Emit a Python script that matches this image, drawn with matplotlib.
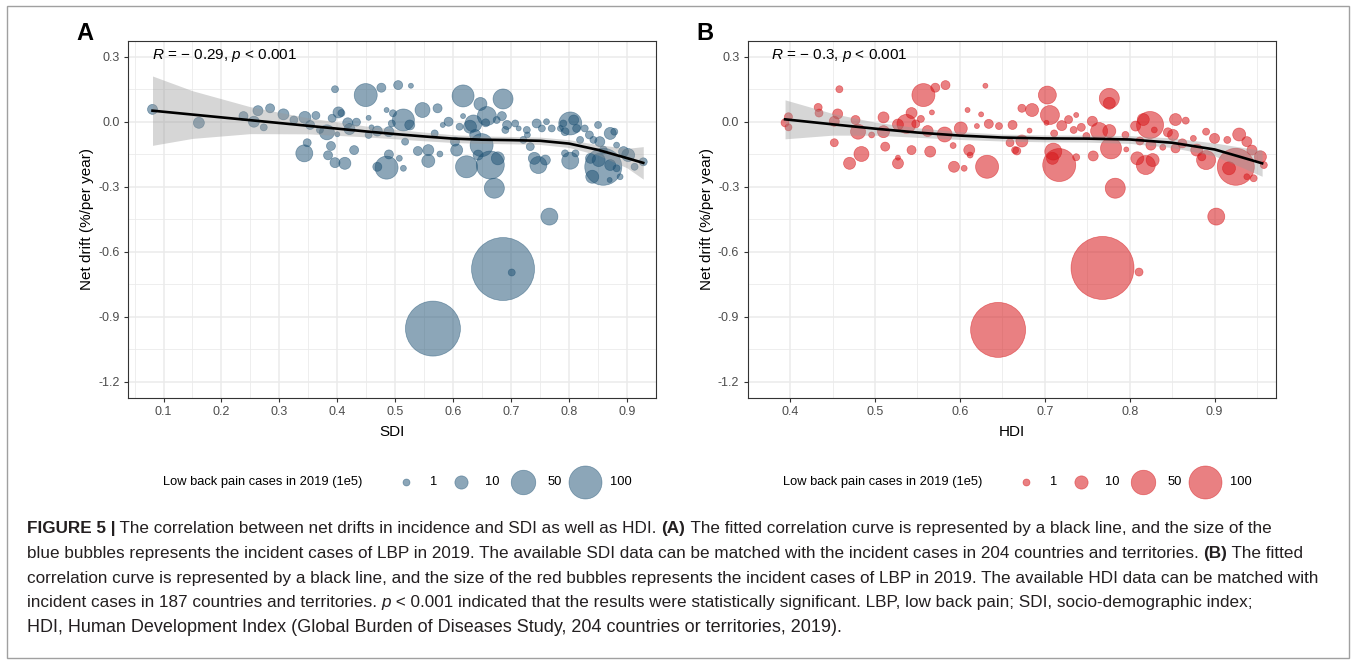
import numpy as np
import matplotlib
matplotlib.use("Agg")
import matplotlib.pyplot as plt
from matplotlib.patches import Rectangle

plt.rcParams['font.family'] = ['Liberation Sans', 'DejaVu Sans']
plt.rcParams['mathtext.fontset'] = 'custom'
plt.rcParams['mathtext.rm'] = 'Liberation Sans'
plt.rcParams['mathtext.it'] = 'Liberation Sans:italic'

# ---- panel A: SDI vs net drift, bubble = LBP cases 2019 (1e5) ----
sdi = [0.081, 0.161, 0.238, 0.263, 0.256, 0.273, 0.284, 0.307, 0.325, 0.344,
       0.363, 0.353, 0.343, 0.348, 0.370, 0.382, 0.389, 0.384, 0.396, 0.413,
       0.396, 0.391, 0.402, 0.407, 0.400, 0.418, 0.421, 0.433, 0.429, 0.449,
       0.476, 0.485, 0.454, 0.459, 0.454, 0.469, 0.485, 0.469, 0.489, 0.489,
       0.494, 0.505, 0.527, 0.547, 0.573, 0.514, 0.496, 0.525, 0.517, 0.514,
       0.507, 0.539, 0.557, 0.557, 0.577, 0.568, 0.582, 0.592, 0.617, 0.647,
       0.658, 0.686, 0.617, 0.611, 0.629, 0.635, 0.638, 0.656, 0.675, 0.684,
       0.693, 0.690, 0.606, 0.603, 0.623, 0.643, 0.649, 0.664, 0.677, 0.671,
       0.766, 0.707, 0.713, 0.727, 0.744, 0.761, 0.753, 0.770, 0.721, 0.733,
       0.740, 0.747, 0.759, 0.728, 0.790, 0.802, 0.808, 0.813, 0.793, 0.785,
       0.802, 0.793, 0.811, 0.827, 0.835, 0.850, 0.871, 0.878, 0.842, 0.853,
       0.859, 0.840, 0.837, 0.851, 0.871, 0.882, 0.888, 0.870, 0.894, 0.902,
       0.913, 0.928, 0.882, 0.859, 0.819, 0.565, 0.686, 0.701]
drift_a = [0.057, -0.005, 0.026, 0.051, 0.000, -0.026, 0.062, 0.034, 0.008, 0.020,
           0.029, -0.015, -0.146, -0.097, -0.038, -0.049, -0.112, -0.155, -0.189, -0.192,
           0.150, 0.016, 0.043, 0.040, -0.058, -0.005, -0.034, -0.002, -0.131, 0.123,
           0.157, 0.054, 0.018, -0.026, -0.061, -0.043, -0.212, -0.208, -0.151, -0.046,
           -0.008, 0.169, 0.166, 0.054, 0.062, 0.008, 0.039, -0.015, -0.092, -0.215,
           -0.169, -0.135, -0.131, -0.181, -0.149, -0.054, -0.015, 0.000, 0.119, 0.082,
           0.026, 0.105, 0.026, -0.023, -0.023, -0.008, -0.061, -0.005, 0.008, 0.026,
           -0.015, -0.038, -0.131, -0.092, -0.208, -0.154, -0.108, -0.200, -0.169, -0.307,
           -0.438, -0.008, -0.031, -0.038, -0.008, 0.000, -0.031, -0.031, -0.084, -0.115,
           -0.169, -0.200, -0.177, -0.061, -0.008, -0.008, 0.008, -0.031, -0.046, -0.031,
           -0.180, -0.146, -0.146, -0.031, -0.061, -0.015, -0.054, -0.046, -0.084, -0.092,
           -0.208, -0.254, -0.169, -0.177, -0.200, -0.215, -0.254, -0.269, -0.138, -0.154,
           -0.208, -0.185, -0.108, -0.131, -0.084, -0.955, -0.680, -0.696]
cases_a = [4.2, 5.7, 2.9, 4.2, 5.7, 1.0, 2.9, 5.7, 1.8, 7.5,
           1.8, 2.9, 19.9, 1.8, 1.0, 14.2, 2.9, 2.9, 4.2, 7.5,
           1.0, 1.8, 5.7, 1.0, 0.1, 4.2, 5.7, 1.8, 2.9, 42.8,
           2.9, 0.1, 0.1, 0.1, 1.0, 4.2, 42.8, 2.9, 2.9, 4.2,
           1.0, 2.9, 0.1, 14.2, 2.9, 38.4, 1.0, 4.2, 1.0, 0.4,
           0.4, 2.9, 5.7, 9.5, 0.4, 1.0, 0.1, 2.9, 38.4, 9.5,
           26.6, 30.3, 0.1, 1.0, 9.5, 19.9, 5.7, 1.8, 1.0, 2.9,
           2.9, 1.0, 7.5, 2.9, 38.4, 4.2, 42.8, 68.4, 9.5, 30.3,
           19.9, 1.0, 0.1, 1.0, 2.9, 0.4, 1.0, 1.0, 1.0, 1.8,
           7.5, 19.9, 4.2, 0.4, 1.0, 42.8, 4.2, 1.8, 1.8, 0.4,
           19.9, 1.0, 1.0, 1.0, 1.8, 1.0, 7.5, 1.0, 1.0, 4.2,
           129.6, 9.5, 4.2, 9.5, 5.7, 1.0, 0.4, 0.1, 4.2, 9.5,
           1.0, 1.8, 0.4, 1.8, 1.0, 310.0, 415.0, 1.0]

# ---- panel B: HDI vs net drift ----
hdi = [0.394, 0.398, 0.398, 0.458, 0.433, 0.434, 0.456, 0.452, 0.477, 0.480,
       0.496, 0.452, 0.484, 0.470, 0.510, 0.510, 0.512, 0.527, 0.537, 0.543,
       0.548, 0.554, 0.557, 0.571, 0.583, 0.567, 0.543, 0.527, 0.527, 0.562,
       0.565, 0.582, 0.592, 0.601, 0.609, 0.611, 0.612, 0.593, 0.605, 0.632,
       0.625, 0.630, 0.620, 0.634, 0.646, 0.662, 0.659, 0.665, 0.673, 0.685,
       0.682, 0.673, 0.667, 0.703, 0.706, 0.702, 0.720, 0.728, 0.737, 0.743,
       0.734, 0.711, 0.710, 0.717, 0.709, 0.737, 0.756, 0.764, 0.776, 0.776,
       0.778, 0.776, 0.757, 0.783, 0.749, 0.795, 0.796, 0.807, 0.816, 0.824,
       0.812, 0.825, 0.809, 0.819, 0.827, 0.829, 0.845, 0.851, 0.854, 0.866,
       0.854, 0.839, 0.862, 0.879, 0.890, 0.900, 0.890, 0.902, 0.915, 0.929,
       0.925, 0.917, 0.938, 0.944, 0.954, 0.958, 0.946, 0.938, 0.885, 0.875,
       0.645, 0.768, 0.811]
drift_b = [-0.005, 0.023, -0.026, 0.150, 0.066, 0.040, 0.036, 0.002, 0.008, -0.046,
           -0.061, -0.097, -0.149, -0.192, 0.020, -0.046, -0.115, -0.013, -0.010, 0.040,
           -0.010, 0.013, 0.123, 0.157, 0.169, 0.043, -0.131, -0.192, -0.166, -0.043,
           -0.138, -0.059, -0.110, -0.031, 0.054, -0.131, -0.154, -0.208, -0.215, -0.208,
           0.034, 0.166, -0.020, -0.010, -0.020, -0.015, -0.097, -0.131, 0.062, 0.054,
           -0.041, -0.089, -0.135, 0.123, 0.031, -0.005, -0.018, 0.010, 0.031, -0.026,
           -0.038, -0.054, -0.138, -0.200, -0.169, -0.164, 0.002, -0.043, 0.108, 0.085,
           -0.123, -0.043, -0.158, -0.307, -0.066, -0.061, -0.128, -0.020, 0.010, -0.015,
           -0.089, -0.108, -0.169, -0.200, -0.177, -0.038, -0.049, -0.061, 0.010, 0.005,
           -0.123, -0.118, -0.100, -0.131, -0.046, -0.077, -0.177, -0.438, -0.084, -0.059,
           -0.208, -0.215, -0.092, -0.131, -0.162, -0.200, -0.261, -0.254, -0.162, -0.077,
           -0.961, -0.675, -0.694]
cases_b = [1.8, 1.8, 1.0, 1.0, 1.8, 1.8, 4.2, 4.2, 2.9, 14.2,
           0.4, 1.8, 14.2, 7.5, 5.7, 7.5, 2.9, 5.7, 26.6, 5.7,
           1.8, 1.0, 42.8, 2.9, 2.9, 0.1, 2.9, 5.7, 0.1, 5.7,
           5.7, 14.2, 0.4, 9.5, 0.1, 5.7, 0.4, 5.7, 0.4, 42.8,
           0.1, 0.1, 0.1, 2.9, 1.0, 2.9, 1.8, 1.0, 1.8, 9.5,
           0.1, 7.5, 1.8, 23.0, 26.6, 0.1, 4.2, 1.8, 0.1, 1.8,
           1.0, 1.0, 19.9, 100.0, 7.5, 1.0, 4.2, 19.9, 30.3, 7.5,
           34.2, 9.5, 4.2, 30.3, 1.0, 1.0, 0.1, 4.2, 7.5, 62.8,
           1.8, 4.2, 9.5, 26.6, 9.5, 0.4, 2.9, 5.7, 7.5, 1.0,
           2.9, 0.4, 2.9, 7.5, 1.0, 4.2, 26.6, 19.9, 1.0, 9.5,
           129.6, 9.5, 4.2, 4.2, 7.5, 1.0, 1.0, 0.4, 1.8, 0.4,
           310.0, 415.0, 1.8]

# fitted curves with their confidence bands
fit_a_x = [0.081, 0.15, 0.25, 0.35, 0.45, 0.50, 0.55, 0.60, 0.65, 0.70, 0.75, 0.80, 0.85, 0.90, 0.928]
fit_a_y = [0.051, 0.033, 0.007, -0.019, -0.045, -0.057, -0.068, -0.078, -0.083, -0.085, -0.088, -0.101, -0.130, -0.168, -0.190]
fit_a_hi = [0.211, 0.143, 0.069, 0.018, -0.020, -0.035, -0.048, -0.060, -0.066, -0.068, -0.071, -0.083, -0.106, -0.123, -0.115]
fit_a_lo = [-0.109, -0.077, -0.055, -0.056, -0.070, -0.079, -0.088, -0.096, -0.100, -0.102, -0.105, -0.119, -0.154, -0.213, -0.265]

fit_b_x = [0.394, 0.45, 0.50, 0.55, 0.60, 0.65, 0.70, 0.75, 0.80, 0.85, 0.90, 0.93, 0.956]
fit_b_y = [0.011, -0.012, -0.032, -0.050, -0.064, -0.073, -0.077, -0.078, -0.082, -0.097, -0.128, -0.162, -0.192]
fit_b_hi = [0.101, 0.038, -0.002, -0.028, -0.046, -0.057, -0.061, -0.062, -0.064, -0.075, -0.098, -0.117, -0.132]
fit_b_lo = [-0.079, -0.062, -0.062, -0.072, -0.082, -0.089, -0.093, -0.094, -0.100, -0.119, -0.158, -0.207, -0.252]

y_ticks = [0.3, 0.0, -0.3, -0.6, -0.9, -1.2]
y_labels = ["0.3", "0.0", "-0.3", "-0.6", "-0.9", "-1.2"]
sdi_ticks = [0.1, 0.2, 0.3, 0.4, 0.5, 0.6, 0.7, 0.8, 0.9]
hdi_ticks = [0.4, 0.5, 0.6, 0.7, 0.8, 0.9]
legend_values = [1, 10, 50, 100]
legend_title = "Low back pain cases in 2019 (1e5)"

BLUE = "#1B4F72"
RED = "#D7191C"
AX_W, AX_H = 528.0, 357.0


def bubble_area(cases):
    # ggplot-like area scale: diameter (px) grows with sqrt of cases
    d_px = 4.1 + 2.89 * np.sqrt(np.asarray(cases, dtype=float))
    return (d_px * 0.72) ** 2


def draw_panel(ax, x, y, cases, color, alpha, fx, fy, flo, fhi,
               xlim, xticks, xlabel, rtext, letter):
    ax.set_facecolor("white")
    ax.scatter(x, y, s=bubble_area(cases), color=color, alpha=alpha,
               edgecolors=color, linewidths=0.5, zorder=3)
    ax.fill_between(fx, flo, fhi, color="#999999", alpha=0.4, lw=0, zorder=4)
    ax.plot(fx, fy, color="black", lw=1.9, zorder=5)

    ax.set_xlim(*xlim)
    ax.set_ylim(-1.274, 0.374)
    ax.set_xticks(xticks)
    ax.set_xticklabels([f"{t:.1f}" for t in xticks])
    ax.set_yticks(y_ticks)
    ax.set_yticklabels(y_labels)
    mx = np.arange(xticks[0] - 0.05, xticks[-1] + 0.1, 0.1)
    ax.set_xticks(mx, minor=True)
    ax.set_yticks([0.15, -0.15, -0.45, -0.75, -1.05], minor=True)
    ax.grid(True, which="major", color="#EBEBEB", lw=1.1, zorder=0)
    ax.grid(True, which="minor", color="#EBEBEB", lw=0.6, zorder=0)
    ax.set_axisbelow(True)
    ax.tick_params(which="major", length=3, width=0.8, color="#333333",
                   labelsize=9, labelcolor="#4D4D4D", pad=3)
    ax.tick_params(which="minor", length=0)
    for s in ax.spines.values():
        s.set_color("#333333")
        s.set_linewidth(0.8)

    ax.set_xlabel(xlabel, fontsize=11, labelpad=5)
    ax.set_ylabel("Net drift (%/per year)", fontsize=11, labelpad=3)
    ax.text(0.045, 0.958, rtext, transform=ax.transAxes, fontsize=11,
            ha="left", va="center")
    ax.text(-0.098, 1.02, letter, transform=ax.transAxes, fontsize=17,
            fontweight="bold", ha="left", va="center")

    # legend below the panel: title on the left, keys in one row
    ly = (AX_H - 84.3) / AX_H - 1.0
    ax.text(35 / AX_W, ly, legend_title, transform=ax.transAxes,
            fontsize=9.3, ha="left", va="center")
    handles = [ax.scatter([], [], s=bubble_area(v), color=color, alpha=alpha,
                          edgecolors=color, linewidths=0.5)
               for v in legend_values]
    ax.legend(handles, [str(v) for v in legend_values], loc="center left",
              bbox_to_anchor=(265 / AX_W, ly), ncol=4, frameon=False,
              fontsize=9.3, handlelength=2.0, handletextpad=0.9,
              columnspacing=0.8, scatterpoints=1, borderaxespad=0,
              borderpad=0)


fig = plt.figure(figsize=(13.56, 6.64), dpi=100)
W, H = 1356.0, 664.0

ax_a = fig.add_axes([128 / W, (H - 397.7) / H, AX_W / W, AX_H / H])
ax_b = fig.add_axes([747.7 / W, (H - 397.7) / H, AX_W / W, AX_H / H])

draw_panel(ax_a, sdi, drift_a, cases_a, BLUE, 0.5, fit_a_x, fit_a_y,
           fit_a_lo, fit_a_hi, (0.0387, 0.950), sdi_ticks, "SDI",
           r"$R$ = $-$ 0.29, $p$ < 0.001", "A")
draw_panel(ax_b, hdi, drift_b, cases_b, RED, 0.55, fit_b_x, fit_b_y,
           fit_b_lo, fit_b_hi, (0.366, 0.972), hdi_ticks, "HDI",
           r"$R$ = $-$ 0.3, $p$ < 0.001", "B")

# outer frame
fig.patches.append(Rectangle((7 / W, 6 / H), 1342 / W, 652 / H,
                             transform=fig.transFigure, fill=False,
                             edgecolor="#A0A0A0", lw=1))

# caption, drawn run by run
renderer = fig.canvas.get_renderer()
CAP_FONT = ["Liberation Sans Narrow", "Liberation Sans"]


def run_width(text, size, weight, style, family):
    t1 = fig.text(0, 0, text + "|", fontsize=size, fontweight=weight,
                  fontstyle=style, family=family)
    t2 = fig.text(0, 0, "|", fontsize=size, fontweight=weight,
                  fontstyle=style, family=family)
    w = t1.get_window_extent(renderer).width - t2.get_window_extent(renderer).width
    t1.remove()
    t2.remove()
    return w


def draw_runs(x_px, y_px, runs, size, family):
    for text, weight, style in runs:
        fig.text(x_px / W, 1 - y_px / H, text, fontsize=size, fontweight=weight,
                 fontstyle=style, family=family, ha="left", va="baseline",
                 color="#231F20")
        x_px += run_width(text, size, weight, style, family)


N, B, I = "normal", "bold", "italic"
caption = [
    [("FIGURE 5 |", B, N),
     (" The correlation between net drifts in incidence and SDI as well as HDI. ", N, N),
     ("(A)", B, N),
     (" The fitted correlation curve is represented by a black line, and the size of the", N, N)],
    [("blue bubbles represents the incident cases of LBP in 2019. The available SDI data can be "
      "matched with the incident cases in 204 countries and territories. ", N, N),
     ("(B)", B, N), (" The fitted", N, N)],
    [("correlation curve is represented by a black line, and the size of the red bubbles "
      "represents the incident cases of LBP in 2019. The available HDI data can be matched with", N, N)],
    [("incident cases in 187 countries and territories. ", N, N), ("p", N, I),
     (" < 0.001 indicated that the results were statistically significant. LBP, low back pain; "
      "SDI, socio-demographic index;", N, N)],
]
base_y = [533, 558, 583, 607]
for runs, by in zip(caption, base_y):
    draw_runs(27, by, runs, 12.3, CAP_FONT)
draw_runs(27, 632, [("HDI, Human Development Index (Global Burden of Diseases Study, "
                     "204 countries or territories, 2019).", N, N)], 13.0,
          ["Liberation Sans"])

fig.savefig("out.png", dpi=100)
